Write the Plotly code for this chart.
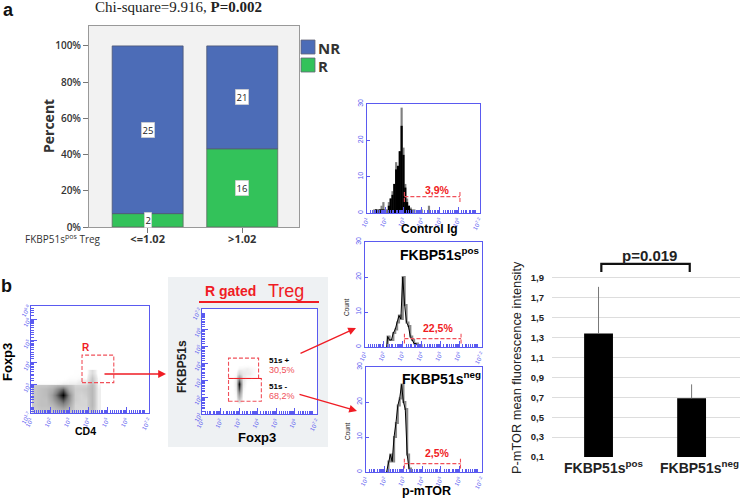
import numpy as np
import plotly.graph_objects as go

W, H = 740, 498

# --- panel a
groups = ["<=1.02", ">1.02"]
pct_r = [7.4, 43.2]
pct_nr = [92.6, 56.8]
count_r = [2, 16]
count_nr = [25, 21]

# --- panel b flow density CD4/Foxp3 (log10 decades)
d1_x = [1.2, 1.5, 1.8, 2.1, 2.4, 2.7, 3.0, 3.3, 3.6, 3.9, 4.2, 4.5]
d1_y = [1.8, 2.05, 2.3, 2.55, 2.8, 2.98, 3.05, 3.3, 3.55]
d1_z = [
    [.15, .2, .2, .2, .25, .3, .25, .15, .12, .12, .25, .05],
    [.2, .25, .25, .3, .45, .55, .4, .15, .15, .15, .3, .05],
    [.2, .25, .25, .4, .6, .75, .5, .18, .15, .15, .3, .05],
    [.2, .25, .28, .45, .75, 1, .55, .18, .15, .18, .3, .05],
    [.2, .25, .28, .35, .55, .7, .35, .18, .18, .2, .3, .05],
    [.18, .2, .2, .25, .3, .3, .25, .15, .15, .15, .28, .04],
    [.02, .02, .02, .02, .03, .05, .05, .05, .08, .1, .25, .03],
    [0, 0, 0, 0, 0, 0, .02, .02, .03, .02, .2, .02],
    [0, 0, 0, 0, 0, 0, 0, .01, .01, 0, .12, 0],
]
d2_x = [2.6, 2.8, 3.0, 3.2, 3.4, 3.6, 3.8, 4.0]
d2_y = [1.6, 1.9, 2.2, 2.5, 2.8, 3.1, 3.4, 3.7, 4.0]
d2_z = [
    [0, 0, 0, 0, 0, 0, 0, 0],
    [0, .02, .25, .01, 0, 0, 0, 0],
    [0, .03, .5, .02, 0, 0, 0, 0],
    [0, .05, .8, .04, 0, 0, 0, 0],
    [0, .06, 1, .06, .01, 0, 0, 0],
    [0, .05, .55, .06, .03, .02, .01, 0],
    [0, .02, .15, .07, .05, .05, .03, 0],
    [0, 0, .04, .04, .05, .04, .03, 0],
    [0, 0, 0, 0, 0, 0, 0, 0],
]

# --- histograms
h0_x = [1.4, 1.5, 1.6, 1.7, 1.8, 1.9, 2.0, 2.1, 2.2, 2.3, 2.4, 2.5, 2.6, 2.7, 2.8, 2.9, 3.0, 3.1, 3.2, 3.3, 3.4, 3.5, 3.6, 4.0, 4.4]
h0_gray = [1, 1, 1, 1, 2, 3, 1, 1, 3, 4, 6, 8, 14, 12, 17, 29, 18, 8, 4, 2, 1.5, 1, 1, 1, 2]
h0_black = [0, 1, 0, 1, 1, 1, 0, 0, 2, 4, 5, 8, 12, 13, 17, 24, 16, 7, 3, 2, 1, 0, 0, 0, 0]
h1_x = [2.15, 2.2, 2.3, 2.4, 2.5, 2.6, 2.7, 2.8, 2.9, 3.0, 3.1, 3.2, 3.3, 3.4, 3.5, 3.6, 3.7, 3.8, 3.9, 4.0]
h1_y = [0, 3, 2, 2, 4, 5, 7, 9, 8, 20, 12, 7, 6, 3, 2, 1, 1, .5, .5, 0]
h2_x = [2.1, 2.2, 2.3, 2.4, 2.5, 2.6, 2.7, 2.8, 2.9, 3.0, 3.1, 3.2, 3.3, 3.4]
h2_y = [0, 3, 5, 3, 10, 14, 19, 21, 25, 20, 18, 5, 1, 0]

# --- right bars
mfi_labels = ["pos", "neg"]
mfi_vals = [1.34, 0.69]
mfi_err = [0.47, 0.14]
mfi_ticks = [0.1, 0.3, 0.5, 0.7, 0.9, 1.1, 1.3, 1.5, 1.7, 1.9]

BLUE = "#4c6cb7"
GREEN = "#33c25a"
FLOW = "#5a5af0"
RED = "#f01c24"
SANS = "Liberation Sans"


def fx(p):
    return p / W


def fy(p):
    return 1 - p / H


def dx(a, b):
    return [fx(a), fx(b)]


def dy(top, bottom):
    return [fy(bottom), fy(top)]


minor_all = [float(d + np.log10(m)) for d in range(1, 8) for m in [1.5, 2, 2.5, 3, 4, 5, 6, 7, 8, 9]]


def flow_axis(domain, rng, majors, labels, anchor, tangle):
    return dict(domain=domain, range=rng, anchor=anchor, showgrid=False, zeroline=False, automargin=False,
                showline=True, mirror=True, linecolor=FLOW, linewidth=1.3,
                tickmode="array", tickvals=majors, ticktext=labels,
                ticks="inside", ticklen=6, tickcolor=FLOW, tickwidth=1,
                minor=dict(tickmode="array", tickvals=[m for m in minor_all if rng[0] < m < rng[1]],
                           ticks="inside", ticklen=3, tickcolor=FLOW, tickwidth=1),
                tickangle=tangle, tickfont=dict(size=6, color=FLOW, family=SANS), ticklabelstandoff=0)


def dec(v):
    return f"10<sup>{v}</sup>"


XT = [1, 2, 3, 4, 5, 6, 7.2]
XL = [dec(v) for v in XT]

fig = go.Figure()

# panel a
fig.add_bar(x=[0, 1], y=pct_r, marker=dict(color=GREEN, line=dict(color="#5b6b60", width=0.8)), width=0.75,
            xaxis="x", yaxis="y", name="R", showlegend=False)
fig.add_bar(x=[0, 1], y=pct_nr, base=pct_r, marker=dict(color=BLUE, line=dict(color="#4b5573", width=0.8)), width=0.75,
            xaxis="x", yaxis="y", name="NR", showlegend=False)
# density 1
GRAY_SCALE = [[0, "rgba(255,255,255,0)"], [.05, "#eeeeee"], [.2, "#c8c8c8"], [.4, "#a8a8a8"], [.6, "#808080"], [.8, "#404040"], [1, "#000000"]]
fig.add_heatmap(x=d1_x, y=d1_y, z=d1_z, colorscale=GRAY_SCALE, zmin=0, zmax=1, zsmooth="best", showscale=False, xaxis="x2", yaxis="y2")
fig.add_heatmap(x=d2_x, y=d2_y, z=d2_z, colorscale=GRAY_SCALE, zmin=0, zmax=1, zsmooth="best", showscale=False, xaxis="x3", yaxis="y3")
# histograms
fig.add_bar(x=h0_x, y=h0_gray, marker=dict(color="#808080", line=dict(width=0)), width=0.12, xaxis="x4", yaxis="y4", showlegend=False)
fig.add_bar(x=h0_x, y=h0_black, marker=dict(color="#000000", line=dict(width=0)), width=0.12, xaxis="x4", yaxis="y4", showlegend=False)
for xs, ys, xa, ya in [(h1_x, h1_y, "x5", "y5"), (h2_x, h2_y, "x6", "y6")]:
    fig.add_scatter(x=xs, y=ys, mode="lines", line=dict(color="#888888", width=2.2, shape="hv"), xaxis=xa, yaxis=ya, showlegend=False)
    fig.add_scatter(x=xs, y=ys, mode="lines", line=dict(color="#000000", width=1), xaxis=xa, yaxis=ya, showlegend=False)
# right bars
fig.add_bar(x=[0, 1], y=[v - 0.1 for v in mfi_vals], base=0.1, width=0.31,
            marker=dict(color="#000000", line=dict(width=0)),
            error_y=dict(type="data", symmetric=False, array=mfi_err, arrayminus=[0, 0], color="#777777", thickness=1, width=0),
            xaxis="x7", yaxis="y7", showlegend=False)

layout = dict(
    width=W, height=H, autosize=False, margin=dict(l=0, r=0, t=0, b=0), paper_bgcolor="white",
    plot_bgcolor="rgba(0,0,0,0)", barmode="overlay", showlegend=False, font=dict(family=SANS),
    xaxis=dict(domain=dx(89, 299), range=[-0.62, 1.6], anchor="y", tickvals=[0, 1], ticktext=[f"<b>{g}</b>" for g in groups],
               showgrid=False, zeroline=False, showline=True, linecolor="#999999", mirror=True, ticks="outside", automargin=False,
               ticklen=5, tickcolor="#777777", ticklabelstandoff=-3, tickfont=dict(size=11, color="#333333", family="Open Sans")),
    yaxis=dict(domain=dy(26, 227), range=[0, 111], anchor="x", tickvals=[0, 20, 40, 60, 80, 100], automargin=False,
               ticktext=["0%", "20%", "40%", "60%", "80%", "100%"], showgrid=False, zeroline=False,
               showline=True, linecolor="#999999", mirror=True, ticks="outside", ticklen=5, tickcolor="#777777",
               tickfont=dict(size=10, color="#333333", family="Open Sans", weight=600)),
    xaxis2=flow_axis(dx(31, 149), [1, 7.2], XT, XL, "y2", -60),
    yaxis2=flow_axis(dy(306, 413), [1.7, 6.6], [1.7, 3, 4, 5, 6, 6.6], [dec(v) for v in [1.7, 3, 4, 5, 6, 6.8]], "x2", -60),
    xaxis3=flow_axis(dx(202, 317), [1, 7.2], XT, XL, "y3", -60),
    yaxis3=flow_axis(dy(309, 414), [1, 7.2], XT, XL, "x3", -60),
    xaxis4=flow_axis(dx(367, 480), [1, 7.2], XT, XL, "y4", -60),
    yaxis4=flow_axis(dy(104, 213), [0, 30], [0, 10, 20, 30], ["0", "10", "20", "30"], "x4", -90),
    xaxis5=flow_axis(dx(365, 482), [1, 7.2], XT, XL, "y5", -60),
    yaxis5=flow_axis(dy(242, 347), [0, 30], [0, 10, 20, 30], ["0", "10", "20", "30"], "x5", -90),
    xaxis6=flow_axis(dx(366, 482), [1, 7.2], XT, XL, "y6", -60),
    yaxis6=flow_axis(dy(367, 472), [0, 30], [0, 10, 20, 30], ["0", "10", "20", "30"], "x6", -90),
    xaxis7=dict(domain=dx(552, 740), range=[-0.5, 1.52], anchor="y7", showticklabels=False, ticks="", showgrid=False,
                zeroline=False, showline=False, automargin=False),
    yaxis7=dict(domain=dy(258, 457), range=[0.1, 2.1], anchor="x7", tickvals=mfi_ticks, automargin=False,
                ticktext=[f"<b>{str(t).replace('.', ',')}</b>" for t in mfi_ticks], showgrid=True, gridcolor="#dddddd",
                zeroline=False, showline=False, ticks="", ticklabelstandoff=7, tickfont=dict(size=9.5, color="#222222", family=SANS)),
)
for k in ["yaxis4", "yaxis5", "yaxis6"]:
    layout[k]["minor"] = dict(ticks="")
    layout[k]["ticklen"] = 3
    layout[k]["tickfont"] = dict(size=7, color=FLOW, family=SANS)

shapes = [
    dict(type="rect", xref="paper", yref="paper", x0=fx(89), x1=fx(299), y0=fy(227), y1=fy(26), fillcolor="#f2f2f2", line=dict(width=0), layer="below"),
    dict(type="rect", xref="paper", yref="paper", x0=fx(168), x1=fx(328), y0=fy(447), y1=fy(277), fillcolor="#eef1f3", line=dict(width=0), layer="below"),
    dict(type="rect", xref="paper", yref="paper", x0=fx(202), x1=fx(317), y0=fy(414), y1=fy(309), fillcolor="white", line=dict(width=0), layer="below"),
    dict(type="rect", xref="paper", yref="paper", x0=fx(301), x1=fx(315), y0=fy(54), y1=fy(40), fillcolor=BLUE, line=dict(color="#667", width=0.8)),
    dict(type="rect", xref="paper", yref="paper", x0=fx(301), x1=fx(315), y0=fy(72), y1=fy(58), fillcolor=GREEN, line=dict(color="#667", width=0.8)),
    dict(type="line", xref="paper", yref="paper", x0=fx(199), x1=fx(319), y0=fy(302), y1=fy(302), line=dict(color=RED, width=2.2)),
]
dash = dict(color="#f0505a", width=1.1, dash="4px,2px")
# gates, in the log decades of their own axes
shapes += [
    dict(type="rect", xref="x2", yref="y2", x0=3.68, x1=5.35, y0=3.09, y1=4.35, line=dash),
    dict(type="rect", xref="x3", yref="y3", x0=2.43, x1=4.05, y0=3.1, y1=4.3, line=dash),
    dict(type="rect", xref="x3", yref="y3", x0=2.43, x1=4.2, y0=1.75, y1=3.1, line=dash),
    dict(type="line", xref="x3", yref="y3", x0=2.43, x1=4.2, y0=3.1, y1=3.1, line=dict(color=RED, width=1)),
]
for xa, ya, x0, x1, yy, y0, y1 in [("x4", "y4", 3.05, 6.1, 4.5, 3, 6), ("x5", "y5", 3.09, 6.09, 2.4, 1, 3.8), ("x6", "y6", 3.05, 6.05, 2.4, 1, 3.8)]:
    shapes += [
        dict(type="line", xref=xa, yref=ya, x0=x0, x1=x1, y0=yy, y1=yy, line=dash),
        dict(type="line", xref=xa, yref=ya, x0=x0, x1=x0, y0=y0, y1=y1, line=dash),
        dict(type="line", xref=xa, yref=ya, x0=x1, x1=x1, y0=y0, y1=y1, line=dash),
    ]
# bracket
shapes.append(dict(type="path", xref="x7", yref="y7", path="M 0.03 1.96 L 0.03 2.04 L 0.98 2.04 L 0.98 1.96",
                   line=dict(color="#111111", width=2.2)))
layout["shapes"] = shapes

ann = []


def text(px, py, s, size=10, color="#000000", family=SANS, angle=0, xanchor="center", bg=None):
    d = dict(x=fx(px), y=fy(py), xref="paper", yref="paper", text=s, showarrow=False, xanchor=xanchor, yanchor="middle",
             font=dict(size=size, color=color, family=family), textangle=angle)
    if bg:
        d.update(bgcolor=bg, bordercolor="#bbbbbb", borderwidth=0.5, borderpad=1)
    ann.append(d)


def arrow(x0, y0, x1, y1):
    ann.append(dict(x=fx(x1), y=fy(y1), xref="paper", yref="paper", ax=x0 - x1, ay=y0 - y1, axref="pixel", ayref="pixel",
                    text="", showarrow=True, arrowhead=2, arrowsize=1.2, arrowwidth=1.3, arrowcolor=RED, standoff=0))


text(8, 10, "<b>a</b>", 18, "#111111")
text(6, 286, "<b>b</b>", 18, "#111111")
text(178, 7, "Chi-square=9.916, <b>P=0.002</b>", 15, "#222222", "Liberation Serif")
text(316, 48, "<b>NR</b>", 15, "#333333", "Open Sans", xanchor="left")
text(316, 66, "<b>R</b>", 15, "#333333", "Open Sans", xanchor="left")
text(48, 126, "<b>Percent</b>", 14, "#333333", "Open Sans", angle=-90)
text(23, 239, "FKBP51s<sup>pos</sup> Treg", 10, "#333333", "Open Sans", xanchor="left")

# count labels placed from the data
for i, bx in enumerate([147.5, 242]):
    y0 = 227 - pct_r[i] / 100 * 181
    text(bx, (227 + y0) / 2, str(count_r[i]), 9.5, "#222222", "Open Sans", bg="white")
    y1 = 46 + pct_nr[i] / 100 * 181 / 2
    text(bx, y1, str(count_nr[i]), 9.5, "#222222", "Open Sans", bg="white")

text(7, 362, "<b>Foxp3</b>", 13, angle=-90)
text(85, 431, "<b>CD4</b>", 10.5)
text(86, 347, "<b>R</b>", 10, RED)
text(231, 291, "<b>R gated</b>", 14, RED)
text(286, 291, "Treg", 18, RED)
text(182, 367, "<b>FKBP51s</b>", 12, "#222222", angle=-90)
text(257, 437, "<b>Foxp3</b>", 13)
text(267, 360, "<b>51s +</b>", 8, xanchor="left")
text(267, 370, "30,5%", 9, "#f0505a", xanchor="left")
text(267, 386, "<b>51s -</b>", 8, xanchor="left")
text(267, 396, "68,2%", 9, "#f0505a", xanchor="left")
text(437, 190, "<b>3,9%</b>", 10.5, RED)
text(429, 229, "<b>Control Ig</b>", 12)
text(346, 307, "Count", 6.5, "#222222", angle=-90)
text(347, 431, "Count", 6.5, "#222222", angle=-90)
text(438, 328, "<b>22,5%</b>", 10.5, RED)
text(437, 453, "<b>2,5%</b>", 10.5, RED)
text(439, 254, "<b>FKBP51s<sup>pos</sup></b>", 14)
text(441, 378, "<b>FKBP51s<sup>neg</sup></b>", 14)
text(426, 491, "<b>p-mTOR</b>", 12.5)
text(649, 255, "<b>p=0.019</b>", 15, "#222222")
text(516, 368, "P-mTOR mean fluorescence intensity", 12.8, "#222222", angle=-90)
for cx, lab in zip([603, 699], mfi_labels):
    text(cx, 467, f"<b>FKBP51s<sup>{lab}</sup></b>", 14, "#222222")

arrow(103, 374, 166, 374)
arrow(299, 354, 356, 328)
arrow(298, 394, 357, 411)
layout["annotations"] = ann

fig.update_layout(**layout)
fig.write_html("out.html", post_script="document.body.style.margin='0';", config=dict(displayModeBar=False))
